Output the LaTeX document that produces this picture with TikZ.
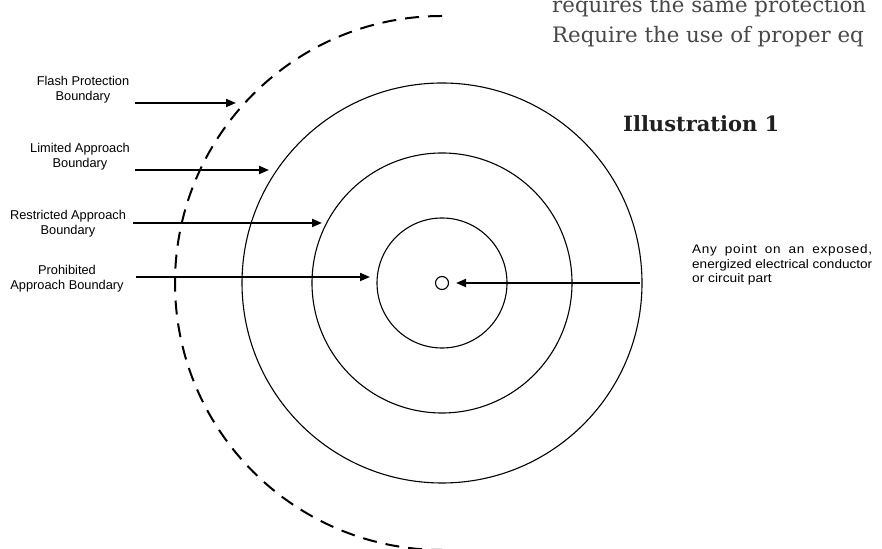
\documentclass[tikz,border=0pt]{standalone}
\usepackage{fontspec}
\usepackage{graphicx}
\setmainfont{Liberation Sans}
\newfontfamily\slabfont{DejaVu Serif}
\newlength\pointwidth
\usetikzlibrary{arrows.meta}

\begin{document}
\begin{tikzpicture}[
    x=1pt,
    y=1pt,
    boundary/.style={
        circle,
        draw=black,
        line width=1.1pt,
        inner sep=0pt
    },
    flash boundary/.style={
        draw=black,
        line width=2pt,
        dash pattern=on 14pt off 9pt
    },
    conductor/.style={
        circle,
        draw=black,
        line width=1.1pt,
        minimum size=13pt,
        inner sep=0pt
    },
    connection/.style={
        -{Triangle[length=10pt,width=8pt]},
        black,
        line width=1.9pt
    },
    label text/.style={
        font=\fontsize{12.8}{15}\selectfont,
        align=center,
        anchor=base,
        inner sep=0pt
    },
    page text/.style={
        font=\slabfont\fontsize{21.3}{30}\selectfont,
        text=black!72,
        anchor=base west,
        inner sep=0pt
    }
]

\useasboundingbox (0,0) rectangle (882,548);
\clip (0,0) rectangle (882,548);

%% --- Text of the page ---
\node[page text] (line1) at (552,535) {requires the same protection};
\node[page text] (line2) at (552,505) {Require the use of proper eq};
\node[page text, font=\slabfont\bfseries\fontsize{21}{25}\selectfont, text=black!88] (title) at (623,416) {Illustration 1};

%% --- Boundaries ---
\coordinate (C) at (442,265);
\node[boundary, minimum size=400pt] (limited) at (C) {};
\node[boundary, minimum size=260pt] (restricted) at (C) {};
\node[boundary, minimum size=130pt] (prohibited) at (C) {};
\node[conductor] (P) at (C) {};
\draw[flash boundary] (C) ++(90:267) arc[start angle=90, end angle=270, radius=267];

%% --- Labels (base = last line) ---
\node[label text] (flashlabel) at (83,447) {Flash Protection\\Boundary};
\node[label text] (limitedlabel) at (80,380) {Limited Approach\\Boundary};
\node[label text] (restrictedlabel) at (68,313) {Restricted Approach\\Boundary};
\node[label text] (prohibitedlabel) at (67,258) {Prohibited\\Approach Boundary};
\node[anchor=base west, inner sep=0pt, align=left,
      font=\fontsize{12.5}{14.5}\selectfont] (pointlabel) at (692,265)
    {\settowidth{\pointwidth}{energized electrical conductor}%
     \resizebox{180pt}{\height}{\makebox[\pointwidth][s]{\addfontfeature{LetterSpace=5}Any point on an exposed,}}\\
     \resizebox{180pt}{\height}{energized electrical conductor}\\
     \scalebox{1.1}[1]{or circuit part}};

%% --- Arrow ends ---
\coordinate (flashstart) at (135,445);
\coordinate (flashtip) at (236,445);
\coordinate (limitedstart) at (135,378);
\coordinate (limitedtip) at (269,378);
\coordinate (restrictedstart) at (133,325);
\coordinate (restrictedtip) at (322,325);
\coordinate (prohibitedstart) at (136,271);
\coordinate (prohibitedtip) at (370,271);
\coordinate (pointstart) at (640,265);

%% --- Connexions ---
\draw[connection] (flashstart) -- (flashtip);
\draw[connection] (limitedstart) -- (limitedtip);
\draw[connection] (restrictedstart) -- (restrictedtip);
\draw[connection] (prohibitedstart) -- (prohibitedtip);
\draw[connection, shorten >=7pt] (pointstart) -- (P);

\end{tikzpicture}
\end{document}
